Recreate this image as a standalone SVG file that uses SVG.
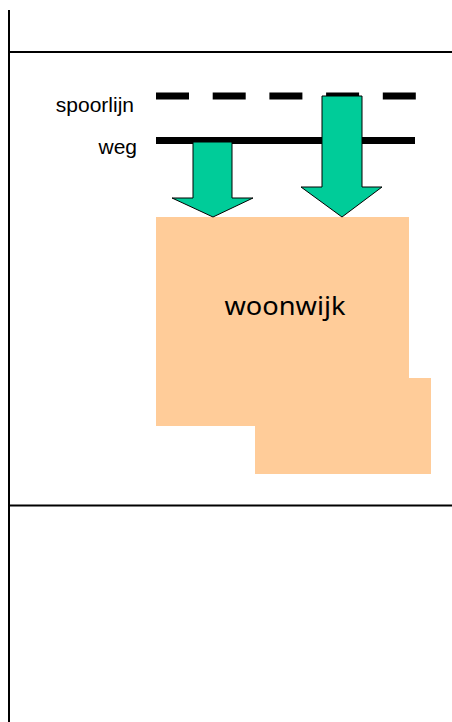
<svg xmlns="http://www.w3.org/2000/svg" width="452" height="722" viewBox="0 0 452 722">
<style>
.frame{stroke:#000;stroke-width:2;fill:none}
.lbl{font-family:"Liberation Sans",Arial,sans-serif;font-size:21px;fill:#000;text-anchor:end}
.arrow{fill:#00CC99;stroke:#000;stroke-width:1}
.area{fill:#FFCC99}
</style>
<g id="frame">
<line class="frame" x1="9" y1="10" x2="9" y2="722"/>
<line class="frame" x1="9" y1="52" x2="452" y2="52"/>
<line class="frame" x1="9" y1="505.5" x2="452" y2="505.5"/>
</g>
<g id="woonwijk">
<rect class="area" x="156" y="217" width="253" height="209"/>
<rect class="area" x="255" y="378" width="176" height="96"/>
<text x="285" y="315" font-family="Noto Sans, Open Sans, sans-serif" font-size="26" text-anchor="middle" textLength="121" lengthAdjust="spacingAndGlyphs">woonwijk</text>
</g>
<g id="spoorlijn">
<line x1="156" y1="96" x2="416" y2="96" stroke="#000" stroke-width="7" stroke-dasharray="33 23.7"/>
<text class="lbl" x="134" y="112">spoorlijn</text>
</g>
<g id="weg">
<line x1="156" y1="140.5" x2="415" y2="140.5" stroke="#000" stroke-width="7"/>
<text class="lbl" x="137" y="154">weg</text>
</g>
<g id="connectors">
<polygon class="arrow" points="193,142 232,142 232,198 253,198 213,217 172,198 193,198"/>
<polygon class="arrow" points="322,96 362,96 362,187 382,187 342,217 301,187 322,187"/>
</g>
</svg>
